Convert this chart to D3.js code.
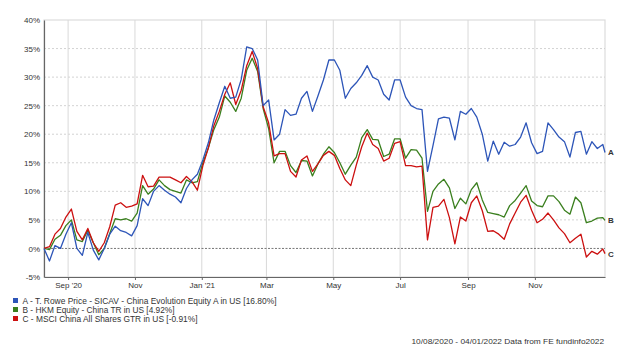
<!DOCTYPE html>
<html><head><meta charset="utf-8">
<script src="https://cdn.jsdelivr.net/npm/d3@7"></script>
<style>
html,body{margin:0;padding:0;background:#fff;}
svg{display:block;font-family:"Liberation Sans",Arial,sans-serif;}
</style></head>
<body><svg id="c" width="640" height="360"></svg>
<script>
const dates = ["2020-08-10","2020-08-15","2020-08-20","2020-08-25","2020-08-30","2020-09-04","2020-09-09","2020-09-14","2020-09-19","2020-09-24",
"2020-09-29","2020-10-04","2020-10-09","2020-10-14","2020-10-19","2020-10-24","2020-10-29","2020-11-03","2020-11-08","2020-11-13",
"2020-11-18","2020-11-23","2020-11-28","2020-12-03","2020-12-08","2020-12-13","2020-12-18","2020-12-23","2020-12-28","2021-01-02",
"2021-01-07","2021-01-12","2021-01-17","2021-01-22","2021-01-27","2021-02-01","2021-02-06","2021-02-11","2021-02-16","2021-02-21",
"2021-02-26","2021-03-03","2021-03-08","2021-03-13","2021-03-18","2021-03-23","2021-03-28","2021-04-02","2021-04-07","2021-04-12",
"2021-04-17","2021-04-22","2021-04-27","2021-05-02","2021-05-07","2021-05-12","2021-05-17","2021-05-22","2021-05-27","2021-06-01",
"2021-06-06","2021-06-11","2021-06-16","2021-06-21","2021-06-26","2021-07-01","2021-07-06","2021-07-11","2021-07-16","2021-07-21",
"2021-07-26","2021-07-31","2021-08-05","2021-08-10","2021-08-15","2021-08-20","2021-08-25","2021-08-30","2021-09-04","2021-09-09",
"2021-09-14","2021-09-19","2021-09-24","2021-09-29","2021-10-04","2021-10-09","2021-10-14","2021-10-19","2021-10-24","2021-10-29",
"2021-11-03","2021-11-08","2021-11-13","2021-11-18","2021-11-23","2021-11-28","2021-12-03","2021-12-08","2021-12-13","2021-12-18",
"2021-12-23","2021-12-28","2022-01-02","2022-01-04"];

const seriesA = [0,-2.2,0.5,0,2.5,4.5,0,-1.2,2.8,-0.3,
-2,0,2.5,3.9,3.1,2.8,2.2,4,8.7,7.5,
10,11,10.2,9.5,9,8,10.5,12,13,15.5,
18.5,22.5,25.5,28.4,26.3,26.5,29.6,35.3,35,33,
25,26,19,20,24.3,23.3,23.5,26.3,27.5,24,
26.7,29.5,33,33,31.2,26.3,28,29,30.3,32,
30,29.5,27,26,29.5,29.5,26.5,25,24.5,24.3,
13.5,18,22.7,23,22.8,19,24,23.5,24.5,23,
20,15.3,18.8,16.5,18.6,17.9,18.2,19.5,22,18.5,
16.6,17,22,20.8,19.5,18.7,16,20.3,20.5,16.5,
18.7,17.5,18.2,16.8];

const seriesB = [0,-0.2,1.6,2.3,4,5,1.5,1.2,3.2,1,
-1.1,0,2.6,5.2,5,5.2,4.8,6.2,11,9.5,
10.4,12,11,10.3,10,9.7,12,11.5,11.7,15,
17.6,20.8,23,26.7,25.6,24,26.3,31.2,33.3,31,
24.5,21,15,17,17,14.5,13.3,15.4,15.3,12.7,
14.8,16.5,17.8,16.8,15,13,14.6,16,19.4,20.8,
19.1,19,16.1,16.5,19.2,19.2,15.8,17.3,17.2,15.8,
6.5,10,11.3,12.1,10.6,7,8.8,7.8,10.3,11.5,
8.5,6.3,6.1,5.9,5.5,7.5,8.4,9.7,11,8.3,
7.5,7.3,9.2,9.2,8.2,6.7,6,9,8,4.5,
4.8,5.3,5.4,4.92];

const seriesC = [0,0.3,2.5,3.5,5.5,6.9,3,1.5,3.5,1,
-0.5,1,3.8,7.6,8,7.2,7.4,7.8,12.8,10.8,
10.9,12.5,12.5,12.5,12,11.5,12.6,11.7,10.2,14.5,
17.6,21.5,24,27,29,25.2,27.7,32,34.5,31.5,
24.8,22,16.2,16.6,16.6,13.5,12.5,15.5,16.2,13.5,
14.8,16.3,17,16.3,14,12,11,14.6,17.8,20.2,
18.2,17.5,15.3,15.8,18.4,18.7,14.5,14.5,14.3,14.4,
1.5,7.2,7.4,8.6,5.4,0.8,5.5,4.8,8,9.2,
6.6,3,3.1,2.5,1.6,4.3,6.2,8.1,9.3,6.7,
4.5,5.1,6.2,5,3.6,2.6,1,1.8,2.5,-1.5,
-0.5,-1,-0.1,-0.91];

const seriesNames = ["A - T. Rowe Price - SICAV -  China Evolution Equity A in US [16.80%]",
                     "B - HKM Equity - China TR in US [4.92%]",
                     "C - MSCI China All Shares GTR in US [-0.91%]"];
const endLabels = ["A","B","C"];
const xTickDates = ["2020-09-01","2020-11-01","2021-01-01","2021-03-01","2021-05-01","2021-07-01","2021-09-01","2021-11-01"];
const xTickLabels = ["Sep '20","Nov","Jan '21","Mar","May","Jul","Sep","Nov"];
const yTicks = [-5,0,5,10,15,20,25,30,35,40];
const footer = "10/08/2020 - 04/01/2022 Data from FE fundinfo2022";

const colors = ["#2d55b8","#3a7f1e","#cc1010"];
const parse = d3.utcParse("%Y-%m-%d");
const svg = d3.select("#c");
const L=44, R=605, T=20, B=277;
const x = d3.scaleUtc().domain([parse("2020-08-10"), parse("2022-01-04")]).range([L,R]);
const y = d3.scaleLinear().domain([-5,40]).range([B,T]);

// frame
svg.append("rect").attr("x",L).attr("y",T).attr("width",R-L).attr("height",B-T)
  .attr("fill","none").attr("stroke","#dcdcdc").attr("stroke-width",1.2);

// horizontal grid
svg.append("g").selectAll("line").data(yTicks.filter(v=>v!==0 && v!==-5 && v!==40)).join("line")
  .attr("x1",L).attr("x2",R).attr("y1",d=>y(d)).attr("y2",d=>y(d))
  .attr("stroke","#c8c8c8").attr("stroke-dasharray","2,2").attr("stroke-width",0.8);

// vertical grid
const tickD = xTickDates.map(parse);
svg.append("g").selectAll("line").data(tickD).join("line")
  .attr("x1",d=>x(d)).attr("x2",d=>x(d)).attr("y1",T).attr("y2",B)
  .attr("stroke","#d9d9d9").attr("stroke-width",1);

// zero line
svg.append("line").attr("x1",L).attr("x2",R).attr("y1",y(0)).attr("y2",y(0))
  .attr("stroke","#666").attr("stroke-dasharray","2,1.5").attr("stroke-width",0.9);

// axes
const yAxis = d3.axisLeft(y).tickValues(yTicks).tickFormat(d=>d+"%").tickSize(0).tickPadding(4);
const gy = svg.append("g").attr("transform",`translate(${L},0)`).call(yAxis);
gy.select(".domain").attr("stroke","#666").attr("stroke-width",1.2);
gy.selectAll("text").attr("font-size","8px").attr("fill","#333").attr("font-family","Liberation Sans, Arial, sans-serif");

const xAxis = d3.axisBottom(x).tickValues(tickD).tickFormat((d,i)=>xTickLabels[i]).tickSize(3).tickSizeOuter(0).tickPadding(2);
const gx = svg.append("g").attr("transform",`translate(0,${B})`).call(xAxis);
gx.select(".domain").attr("stroke","#666").attr("stroke-width",1.2);
gx.selectAll(".tick line").attr("stroke","#666");
gx.selectAll("text").attr("font-size","8px").attr("fill","#333").attr("font-family","Liberation Sans, Arial, sans-serif");

// lines
const dd = dates.map(parse);
const all = [seriesA, seriesB, seriesC];
const line = d3.line().x((d,i)=>x(dd[i])).y(d=>y(d));
const order = [1,2,0];
order.forEach(si=>{
  svg.append("path").datum(all[si]).attr("d",line)
    .attr("fill","none").attr("stroke",colors[si]).attr("stroke-width",1.3)
    .attr("stroke-linejoin","round");
});

// end labels
all.forEach((s,i)=>{
  svg.append("text").attr("x",R+3).attr("y",y(s[s.length-1])+3)
    .attr("font-size","8px").attr("font-weight","bold").attr("fill","#333").text(endLabels[i]);
});

// legend
const legendWidths = [254, 152, 175];
seriesNames.forEach((n,i)=>{
  const yy = 301 + i*9;
  svg.append("rect").attr("x",13).attr("y",yy-3).attr("width",5).attr("height",5).attr("fill",colors[i]);
  svg.append("text").attr("x",22.5).attr("y",yy+2.5).attr("font-size","8.5px").attr("fill","#333")
    .attr("textLength",legendWidths[i]).attr("lengthAdjust","spacingAndGlyphs").text(n);
});

// footer
svg.append("text").attr("x",411.5).attr("y",344)
  .attr("font-size","8px").attr("fill","#333")
  .attr("textLength",192.5).attr("lengthAdjust","spacingAndGlyphs").text(footer);
</script></body></html>
